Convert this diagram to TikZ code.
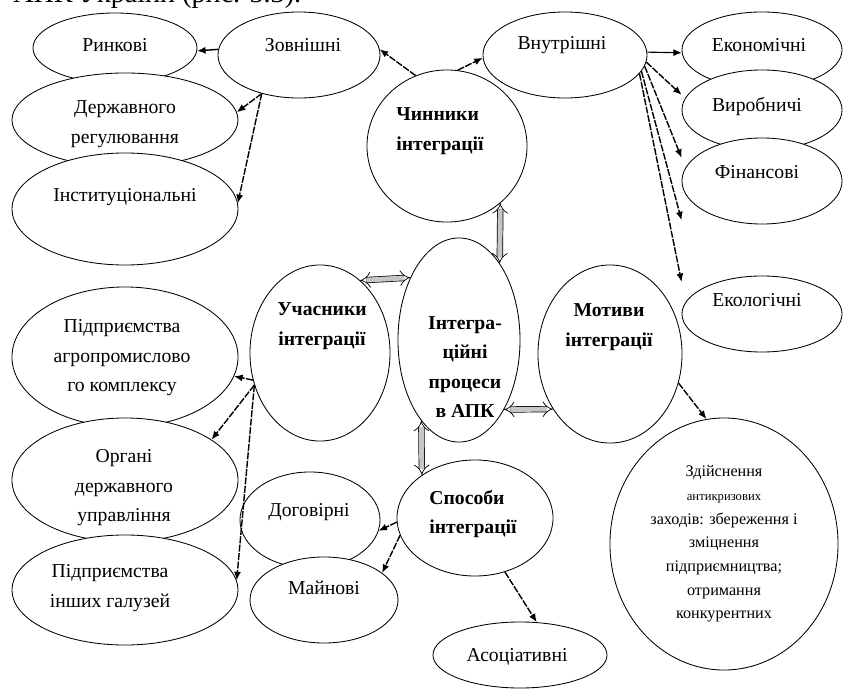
\documentclass[tikz,border=0pt]{standalone}
\usepackage{fontspec}
\setmainfont{Liberation Serif}
\usetikzlibrary{shapes.geometric}
\usetikzlibrary{arrows.meta}

\begin{document}
\begin{tikzpicture}[x=0.025cm,y=-0.025cm,
         oval/.style 2 args = {ellipse,draw,fill=white,line width=0.6pt,
         inner sep=0pt,minimum width=#1*0.05cm,minimum height=#2*0.05cm},
         lbl/.style = {font=\fontsize{14}{21}\selectfont,align=center,inner sep=0pt},
         head/.style = {lbl,font=\fontsize{14}{21}\selectfont\bfseries},
         small/.style = {font=\fontsize{11.5}{16.8}\selectfont,align=center,inner sep=0pt},
         link/.style = {-{Latex[length=6pt,width=5pt]},line width=1pt,
         dash pattern=on 5pt off 1pt},
         bond/.style = {double=gray!45,double distance=3.5pt,line width=0.5pt,
         {Implies[scale=1.5]}-{Implies[scale=1.5]}}
]
      \useasboundingbox (0,0) rectangle (843,690);
      \clip (0,0) rectangle (843,690);
      \node[font=\fontsize{20}{24}\selectfont,anchor=base west,inner sep=0pt] (top) at (13,3) {АПК України (рис. 3.3).};

      % zovnishni
      \node[oval={82}{35}] (rynk) at (115,48) {};
      \node[oval={81}{43}] (zovn) at (299,55) {};
      \node[oval={113}{47}] (derzh) at (125,120) {};
      \node[oval={113}{56}] (inst) at (125,209) {};
      \node[oval={80}{76}] (chyn) at (447,146) {};

      % vnutrishni
      \node[oval={82}{43}] (vnut) at (565,55) {};
      \node[oval={80}{38}] (ekon) at (762,50) {};
      \node[oval={80}{40}] (vyrob) at (762,110) {};
      \node[oval={80}{43}] (fin) at (762,181) {};
      \node[oval={80}{38}] (ekol) at (762,314) {};

      \node[oval={61}{102}] (integ) at (459,340) {};
      \node[oval={72}{89}] (motyv) at (610,354) {};
      \node[oval={70}{88}] (uchas) at (320,353) {};

      \node[oval={113}{70}] (pidpr) at (125,357) {};
      \node[oval={113}{62}] (organ) at (125,480) {};
      \node[oval={113}{55}] (inshi) at (125,590) {};

      \node[oval={70}{48}] (dogov) at (310,520) {};
      \node[oval={74}{43}] (mayn) at (324,600) {};
      \node[oval={78}{58}] (sposob) at (475,518) {};
      \node[oval={87}{33}] (asoc) at (520,655) {};
      \node[oval={114}{126}] (zdiysn) at (724,544) {};

      \node[lbl] (t-rynk) at (115,45) {Ринкові};
      \node[lbl] (t-zovn) at (303,45) {Зовнішні};
      \node[lbl] (t-derzh) at (125,124) {Державного\\регулювання};
      \node[lbl] (t-inst) at (125,197) {Інституціональні};
      \node[head,align=left] (t-chyn) at (440,131) {Чинники\\інтеграції};
      \node[lbl] (t-vnut) at (562,45) {Внутрішні};
      \node[lbl] (t-ekon) at (759,45) {Економічні};
      \node[lbl] (t-vyrob) at (757,107) {Виробничі};
      \node[lbl] (t-fin) at (757,172) {Фінансові};
      \node[lbl] (t-ekol) at (757,300) {Екологічні};
      \node[head] (t-integ) at (465,367) {Інтегра-\\ційні\\процеси\\в АПК};
      \node[head] (t-motyv) at (609,327) {Мотиви\\інтеграції};
      \node[head] (t-uchas) at (322,326) {Учасники\\інтеграції};
      \node[lbl] (t-pidpr) at (122,358) {Підприємства\\агропромислово\\го комплексу};
      \node[lbl] (t-organ) at (124,488) {Органі\\державного\\управління};
      \node[lbl] (t-inshi) at (110,588) {Підприємства\\інших галузей};
      \node[lbl] (t-dogov) at (309,512) {Договірні};
      \node[lbl] (t-mayn) at (324,588) {Майнові};
      \node[head,align=left] (t-sposob) at (473,514) {Способи\\інтеграції};
      \node[lbl] (t-asoc) at (517,657) {Асоціативні};
      \node[small] (t-zdiysn) at (724,544) {Здійснення\\{\fontsize{9}{16.8}\selectfont антикризових}\\заходів: збереження і\\зміцнення\\підприємництва;\\отримання\\конкурентних};

      \coordinate (end4) at ([yshift=-0.98cm]fin.west);

      \draw[link,solid] (zovn.176) -- (rynk.-2);
      \draw[link] (chyn.114) -- (zovn.4);
      \draw[link] (zovn.226) -- (derzh.4);
      \draw[link] (zovn.226) -- (inst.3);
      \draw[link] (chyn.82) -- (vnut.182);
      \draw[link,solid,line width=0.8pt] (vnut.2) -- (ekon.182);
      \draw[link] (vnut.-5) -- ([yshift=0.38cm]vyrob.west);
      \draw[link] (vnut.-8) -- ([yshift=0.58cm]fin.west);
      \draw[link] (vnut.-12) -- (end4);
      \draw[link] (vnut.-14) -- ([yshift=0.8cm]ekol.west);
      \draw[link] (uchas.202) -- (pidpr.-10);
      \draw[link] (uchas.206) -- (organ.25);
      \draw[link] (uchas.206) -- (inshi.5);
      \draw[link] (motyv.-23) -- (zdiysn.98);
      \draw[link] (sposob.183) -- (dogov.-9);
      \draw[link] (sposob.193) -- (mayn.25);
      \draw[link] (sposob.-61) -- (asoc.63);

      \draw[bond] (chyn.-47) -- (integ.62);
      \draw[bond] (uchas.61) -- (integ.128);
      \draw[bond] (integ.-57) -- (motyv.224);
      \draw[bond] (integ.245) -- (sposob.141);
\end{tikzpicture}
\end{document}
